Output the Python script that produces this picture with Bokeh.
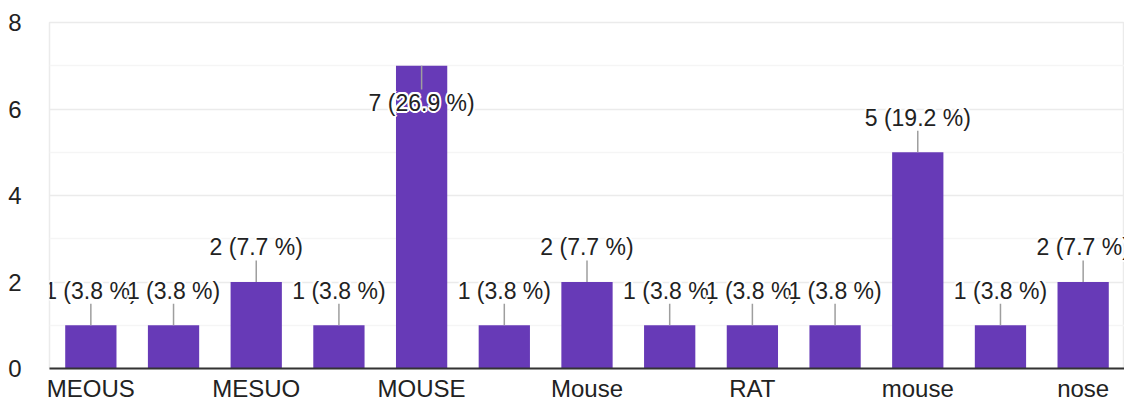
from bokeh.plotting import figure
from bokeh.models import Range1d, FixedTicker, Label, ColumnDataSource
from bokeh.embed import file_html
from bokeh.resources import INLINE

# ---- data ----
categories = ["MEOUS", "MESOU", "MESUO", "MICE", "MOUSE", "MOUSES", "Mouse",
              "Mouses", "RAT", "Rat", "mouse", "mouses", "nose"]
counts = [1, 1, 2, 1, 7, 1, 2, 1, 1, 1, 5, 1, 2]
percents = [3.8, 3.8, 7.7, 3.8, 26.9, 3.8, 7.7, 3.8, 3.8, 3.8, 19.2, 3.8, 7.7]
shown_labels = ["MEOUS", "MESUO", "MOUSE", "Mouse", "RAT", "mouse", "nose"]
y_ticks = [0, 2, 4, 6, 8]
y_minor = [1, 3, 5, 7]

BAR = "#673ab7"
TEXT = "#222222"
FONT = "Liberation Sans"
YMAX = 8
GAP = 0.5          # leader length in data units

idx = list(range(len(categories)))

p = figure(width=1124, height=404, output_backend="svg", toolbar_location=None,
           x_range=Range1d(-0.5, len(categories) - 0.5), y_range=Range1d(0, YMAX),
           min_border_left=49, min_border_top=22, min_border_right=0, min_border_bottom=10)
p.background_fill_color = "white"
p.border_fill_color = "white"
p.outline_line_color = "#ebebeb"
p.outline_line_width = 1.5

src = ColumnDataSource(dict(x=idx, top=counts))
p.vbar(x="x", top="top", width=0.62, source=src, fill_color=BAR, line_color=None)

# leader lines
ly0, ly1, ty, base = [], [], [], []
for v in counts:
    if v + GAP + 0.6 > YMAX:
        ly0.append(v); ly1.append(v - GAP - 0.05); ty.append(v - GAP - 0.05); base.append("top")
    else:
        ly0.append(v); ly1.append(v + GAP); ty.append(v + GAP); base.append("bottom")
p.segment(x0=idx, y0=ly0, x1=idx, y1=ly1, line_color="#9e9e9e", line_width=1.5)

# data labels with white halo, later labels drawn over earlier ones
halo = [(-2, 0), (2, 0), (0, -2), (0, 2), (-1.5, -1.5), (1.5, 1.5), (-1.5, 1.5), (1.5, -1.5)]
for i, (c, pc) in enumerate(zip(counts, percents)):
    txt = f"{c} ({pc} %)"
    for dx, dy in halo:
        p.add_layout(Label(x=i, y=ty[i], text=txt, x_offset=dx, y_offset=dy,
                           text_align="center", text_baseline=base[i],
                           text_font=FONT, text_font_size="23px", text_color="white"))
    p.add_layout(Label(x=i, y=ty[i], text=txt, text_align="center", text_baseline=base[i],
                       text_font=FONT, text_font_size="23px", text_color=TEXT))

# axes
p.xaxis.ticker = FixedTicker(ticks=idx)
p.xaxis.major_label_overrides = {i: (c if c in shown_labels and i % 2 == 0 else "")
                                 for i, c in enumerate(categories)}
p.xaxis.axis_line_color = "#333333"
p.xaxis.axis_line_width = 2
p.xaxis.major_tick_line_color = None
p.xaxis.minor_tick_line_color = None
p.xaxis.major_tick_out = 0
p.xaxis.major_label_text_font = FONT
p.xaxis.major_label_text_font_size = "24px"
p.xaxis.major_label_text_color = TEXT
p.xaxis.major_label_standoff = 6

p.yaxis.ticker = FixedTicker(ticks=y_ticks, minor_ticks=y_minor)
p.yaxis.axis_line_color = None
p.yaxis.major_tick_line_color = None
p.yaxis.minor_tick_line_color = None
p.yaxis.major_tick_out = 0
p.yaxis.major_label_text_font = FONT
p.yaxis.major_label_text_font_size = "24px"
p.yaxis.major_label_text_color = TEXT
p.yaxis.major_label_standoff = 24

p.xgrid.grid_line_color = None
p.ygrid.ticker = FixedTicker(ticks=y_ticks, minor_ticks=y_minor)
p.ygrid.grid_line_color = "#ebebeb"
p.ygrid.grid_line_width = 1.5
p.ygrid.minor_grid_line_color = "#f5f5f5"
p.ygrid.minor_grid_line_width = 1.5

open("out.html", "w").write(file_html(p, INLINE))
